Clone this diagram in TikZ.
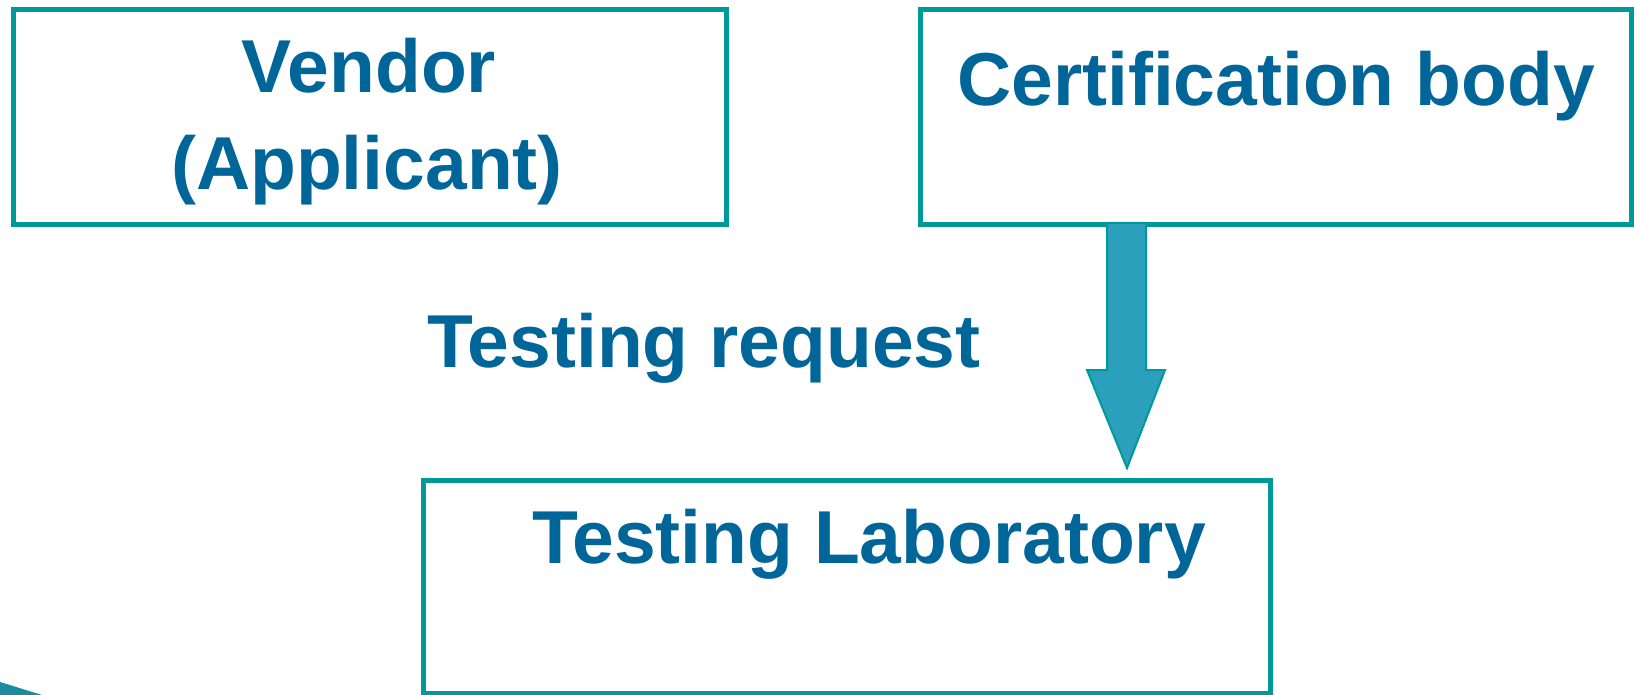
\documentclass[tikz,border=0pt]{standalone}
\usepackage{fontspec}
\setmainfont{Liberation Sans}
\definecolor{txtblue}{RGB}{0,102,153}
\definecolor{teal1}{RGB}{0,153,153}
\definecolor{arrowfill}{RGB}{43,160,188}
\definecolor{swoosh}{RGB}{28,138,160}
\begin{document}
\begin{tikzpicture}[x=1pt,y=-1pt,
  boxstyle/.style={draw=teal1,line width=5pt,fill=none},
  lbl/.style={text=txtblue,font=\fontsize{75}{97}\selectfont\bfseries,inner sep=0pt,anchor=base,align=center}]
\useasboundingbox (0,0) rectangle (1634,695);
% boxes
\draw[boxstyle] (13,9.5) rectangle (726,224.5);
\coordinate (vendorbox) at (369.5,117);
\draw[boxstyle] (920,9.5) rectangle (1631.5,224.5);
\draw[boxstyle] (423.5,480.5) rectangle (1270.5,693);
% arrow
\filldraw[fill=arrowfill,draw=teal1,line width=2pt,line join=miter]
  (1107,223) -- (1146,223) -- (1146,370) -- (1165,370) -- (1127,468) -- (1087,370) -- (1107,370) -- cycle;
% swoosh bottom-left
\fill[swoosh] (0,682) -- (42,695) -- (0,695) -- cycle;
% texts
\node[lbl] (vendor) at (369,93) {Vendor};
\node[lbl] (applicant) at (367,190) {(Applicant)};
\node[lbl] (cert) at (1276,106) {Certification body};
\node[lbl] (req) at (704,367) {Testing request};
\node[lbl] (lab) at (869,563) {Testing Laboratory};
\end{tikzpicture}
\end{document}
